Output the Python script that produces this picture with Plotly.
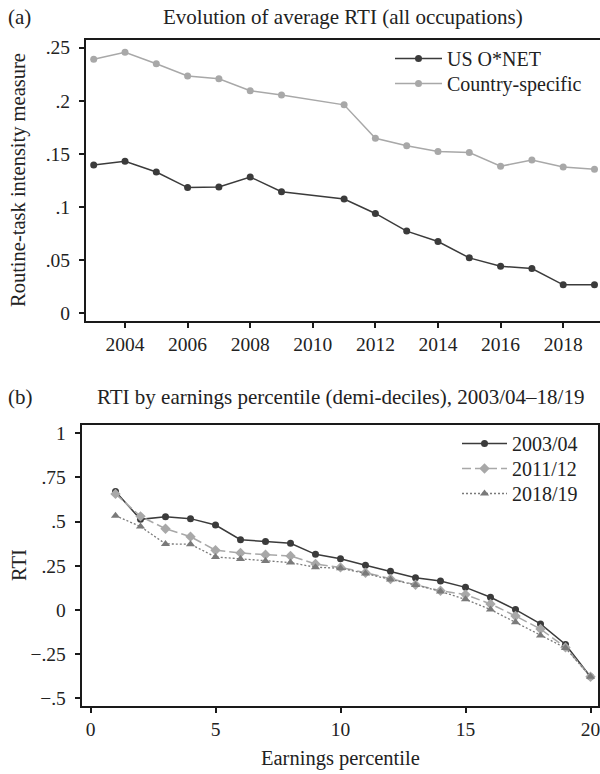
import plotly.graph_objects as go

# ---------------- data ----------------
years = [2003, 2004, 2005, 2006, 2007, 2008, 2009, 2011, 2012, 2013, 2014, 2015, 2016, 2017, 2018, 2019]
rti_us_onet = [0.1396, 0.1431, 0.1330, 0.1183, 0.1189, 0.1283, 0.1145, 0.1075, 0.0940, 0.0774,
               0.0676, 0.0522, 0.0443, 0.0422, 0.0268, 0.0268]
rti_country = [0.2391, 0.2457, 0.2349, 0.2233, 0.2208, 0.2094, 0.2054, 0.1962, 0.1648, 0.1576,
               0.1522, 0.1513, 0.1384, 0.1443, 0.1377, 0.1356]

percentiles = list(range(1, 21))
rti_0304 = [0.670, 0.513, 0.528, 0.517, 0.481, 0.398, 0.387, 0.377, 0.315, 0.290,
            0.253, 0.219, 0.183, 0.164, 0.128, 0.072, 0.002, -0.079, -0.195, -0.378]
rti_1112 = [0.657, 0.530, 0.460, 0.415, 0.338, 0.323, 0.313, 0.306, 0.260, 0.241,
            0.211, 0.175, 0.143, 0.109, 0.087, 0.034, -0.034, -0.108, -0.212, -0.378]
rti_1819 = [0.534, 0.472, 0.374, 0.372, 0.300, 0.289, 0.277, 0.268, 0.242, 0.236,
            0.207, 0.172, 0.142, 0.105, 0.060, 0.002, -0.070, -0.144, -0.215, -0.378]

top_ytickvals = [0, 0.05, 0.1, 0.15, 0.2, 0.25]
top_yticktext = ["0", ".05", ".1", ".15", ".2", ".25"]
top_xtickvals = [2004, 2006, 2008, 2010, 2012, 2014, 2016, 2018]
bot_ytickvals = [1, 0.75, 0.5, 0.25, 0, -0.25, -0.5]
bot_yticktext = ["1", ".75", ".5", ".25", "0", "\u2212.25", "\u2212.5"]
bot_xtickvals = [0, 5, 10, 15, 20]

FONT = "Liberation Serif"
DARK = "#3b3b3b"
LIGHT = "#a8a8a8"
MID = "#7a7a7a"
AXC = "#1a1a1a"
TXT = "#222222"

TICK_SIZE = 19.5
TITLE_SIZE = 21
AXTITLE_SIZE = 20.5
LEG_SIZE = 20

W, H = 600, 774

fig = go.Figure()

# top panel
fig.add_trace(go.Scatter(x=years, y=rti_us_onet, name="US O*NET", mode="lines+markers",
                         line=dict(color=DARK, width=1.5), marker=dict(color=DARK, size=7),
                         xaxis="x", yaxis="y", legend="legend"))
fig.add_trace(go.Scatter(x=years, y=rti_country, name="Country-specific", mode="lines+markers",
                         line=dict(color=LIGHT, width=1.5), marker=dict(color=LIGHT, size=7),
                         xaxis="x", yaxis="y", legend="legend2"))

# bottom panel
fig.add_trace(go.Scatter(x=percentiles, y=rti_0304, name="2003/04", mode="lines+markers",
                         line=dict(color=DARK, width=1.5), marker=dict(color=DARK, size=7, symbol="circle"),
                         xaxis="x2", yaxis="y2", legend="legend3"))
fig.add_trace(go.Scatter(x=percentiles, y=rti_1112, name="2011/12", mode="lines+markers",
                         line=dict(color=LIGHT, width=1.5, dash="9px,4px"),
                         marker=dict(color=LIGHT, size=8, symbol="diamond"),
                         xaxis="x2", yaxis="y2", legend="legend4"))
fig.add_trace(go.Scatter(x=percentiles, y=rti_1819, name="2018/19", mode="lines+markers",
                         line=dict(color=MID, width=1.3, dash="2px,2px"),
                         marker=dict(color=MID, size=8, symbol="triangle-up"),
                         xaxis="x2", yaxis="y2", legend="legend5"))

def px_x(p):
    return p / W

def px_y(p):
    return 1 - p / H

axis_common = dict(showgrid=False, zeroline=False, showline=True, linecolor=AXC, linewidth=2,
                   ticks="outside", ticklen=5, tickwidth=1.5, tickcolor=AXC,
                   tickfont=dict(family=FONT, size=TICK_SIZE, color=TXT), automargin=False,
                   ticklabeloverflow="allow")

def leg(xpx, ypx, itemw):
    return dict(x=px_x(xpx), y=px_y(ypx), xanchor="left", yanchor="middle", bgcolor="rgba(0,0,0,0)",
                font=dict(family=FONT, size=LEG_SIZE, color=TXT), itemwidth=itemw, tracegroupgap=0)

fig.update_layout(
    width=W, height=H,
    margin=dict(l=0, r=0, t=0, b=0),
    paper_bgcolor="white", plot_bgcolor="white",
    font=dict(family=FONT, size=TICK_SIZE, color=TXT),
    xaxis=dict(domain=[px_x(86), 1.0], range=[2002.754, 2019.176], tickvals=top_xtickvals,
               mirror=True, anchor="y", ticklabelstandoff=0, **axis_common),
    yaxis=dict(domain=[px_y(321), px_y(40)], range=[-0.0072, 0.2572], tickvals=top_ytickvals,
               ticktext=top_yticktext, anchor="x", ticklabelstandoff=5, **axis_common),
    xaxis2=dict(domain=[px_x(81.7), px_x(598.3)], range=[-0.352, 20.312], tickvals=bot_xtickvals,
                mirror=True, anchor="y2", ticklabelstandoff=0, **axis_common),
    yaxis2=dict(domain=[px_y(706), px_y(425)], range=[-0.5436, 1.047], tickvals=bot_ytickvals,
                ticktext=bot_yticktext, mirror=True, anchor="x2", ticklabelstandoff=5, **axis_common),
    legend=leg(390, 58.5, 47),
    legend2=leg(390, 83.5, 47),
    legend3=leg(457, 443.5, 45),
    legend4=leg(457, 468.5, 45),
    legend5=leg(457, 493.5, 45),
    showlegend=True,
)

ann = [
    dict(text="(a)", x=px_x(6), y=px_y(17), xanchor="left", yanchor="middle", size=TITLE_SIZE),
    dict(text="Evolution of average RTI (all occupations)", x=px_x(343), y=px_y(17), xanchor="center", yanchor="middle", size=TITLE_SIZE),
    dict(text="(b)", x=px_x(6), y=px_y(397), xanchor="left", yanchor="middle", size=TITLE_SIZE),
    dict(text="RTI by earnings percentile (demi-deciles), 2003/04\u201318/19", x=px_x(340), y=px_y(397), xanchor="center", yanchor="middle", size=TITLE_SIZE),
    dict(text="Earnings percentile", x=px_x(340), y=px_y(758), xanchor="center", yanchor="middle", size=AXTITLE_SIZE),
]
for a in ann:
    fig.add_annotation(text=a["text"], x=a["x"], y=a["y"], xref="paper", yref="paper",
                       xanchor=a["xanchor"], yanchor=a["yanchor"], showarrow=False,
                       font=dict(family=FONT, size=a["size"], color=TXT))

fig.add_annotation(text="Routine-task intensity measure", x=px_x(19), y=px_y(180), xref="paper", yref="paper",
                   xanchor="center", yanchor="middle", textangle=-90, showarrow=False,
                   font=dict(family=FONT, size=AXTITLE_SIZE, color=TXT))
fig.add_annotation(text="RTI", x=px_x(19), y=px_y(565), xref="paper", yref="paper",
                   xanchor="center", yanchor="middle", textangle=-90, showarrow=False,
                   font=dict(family=FONT, size=AXTITLE_SIZE, color=TXT))

fig.write_html("out.html", config={"displayModeBar": False},
               post_script="document.body.style.margin='0';document.body.style.overflow='hidden';")
